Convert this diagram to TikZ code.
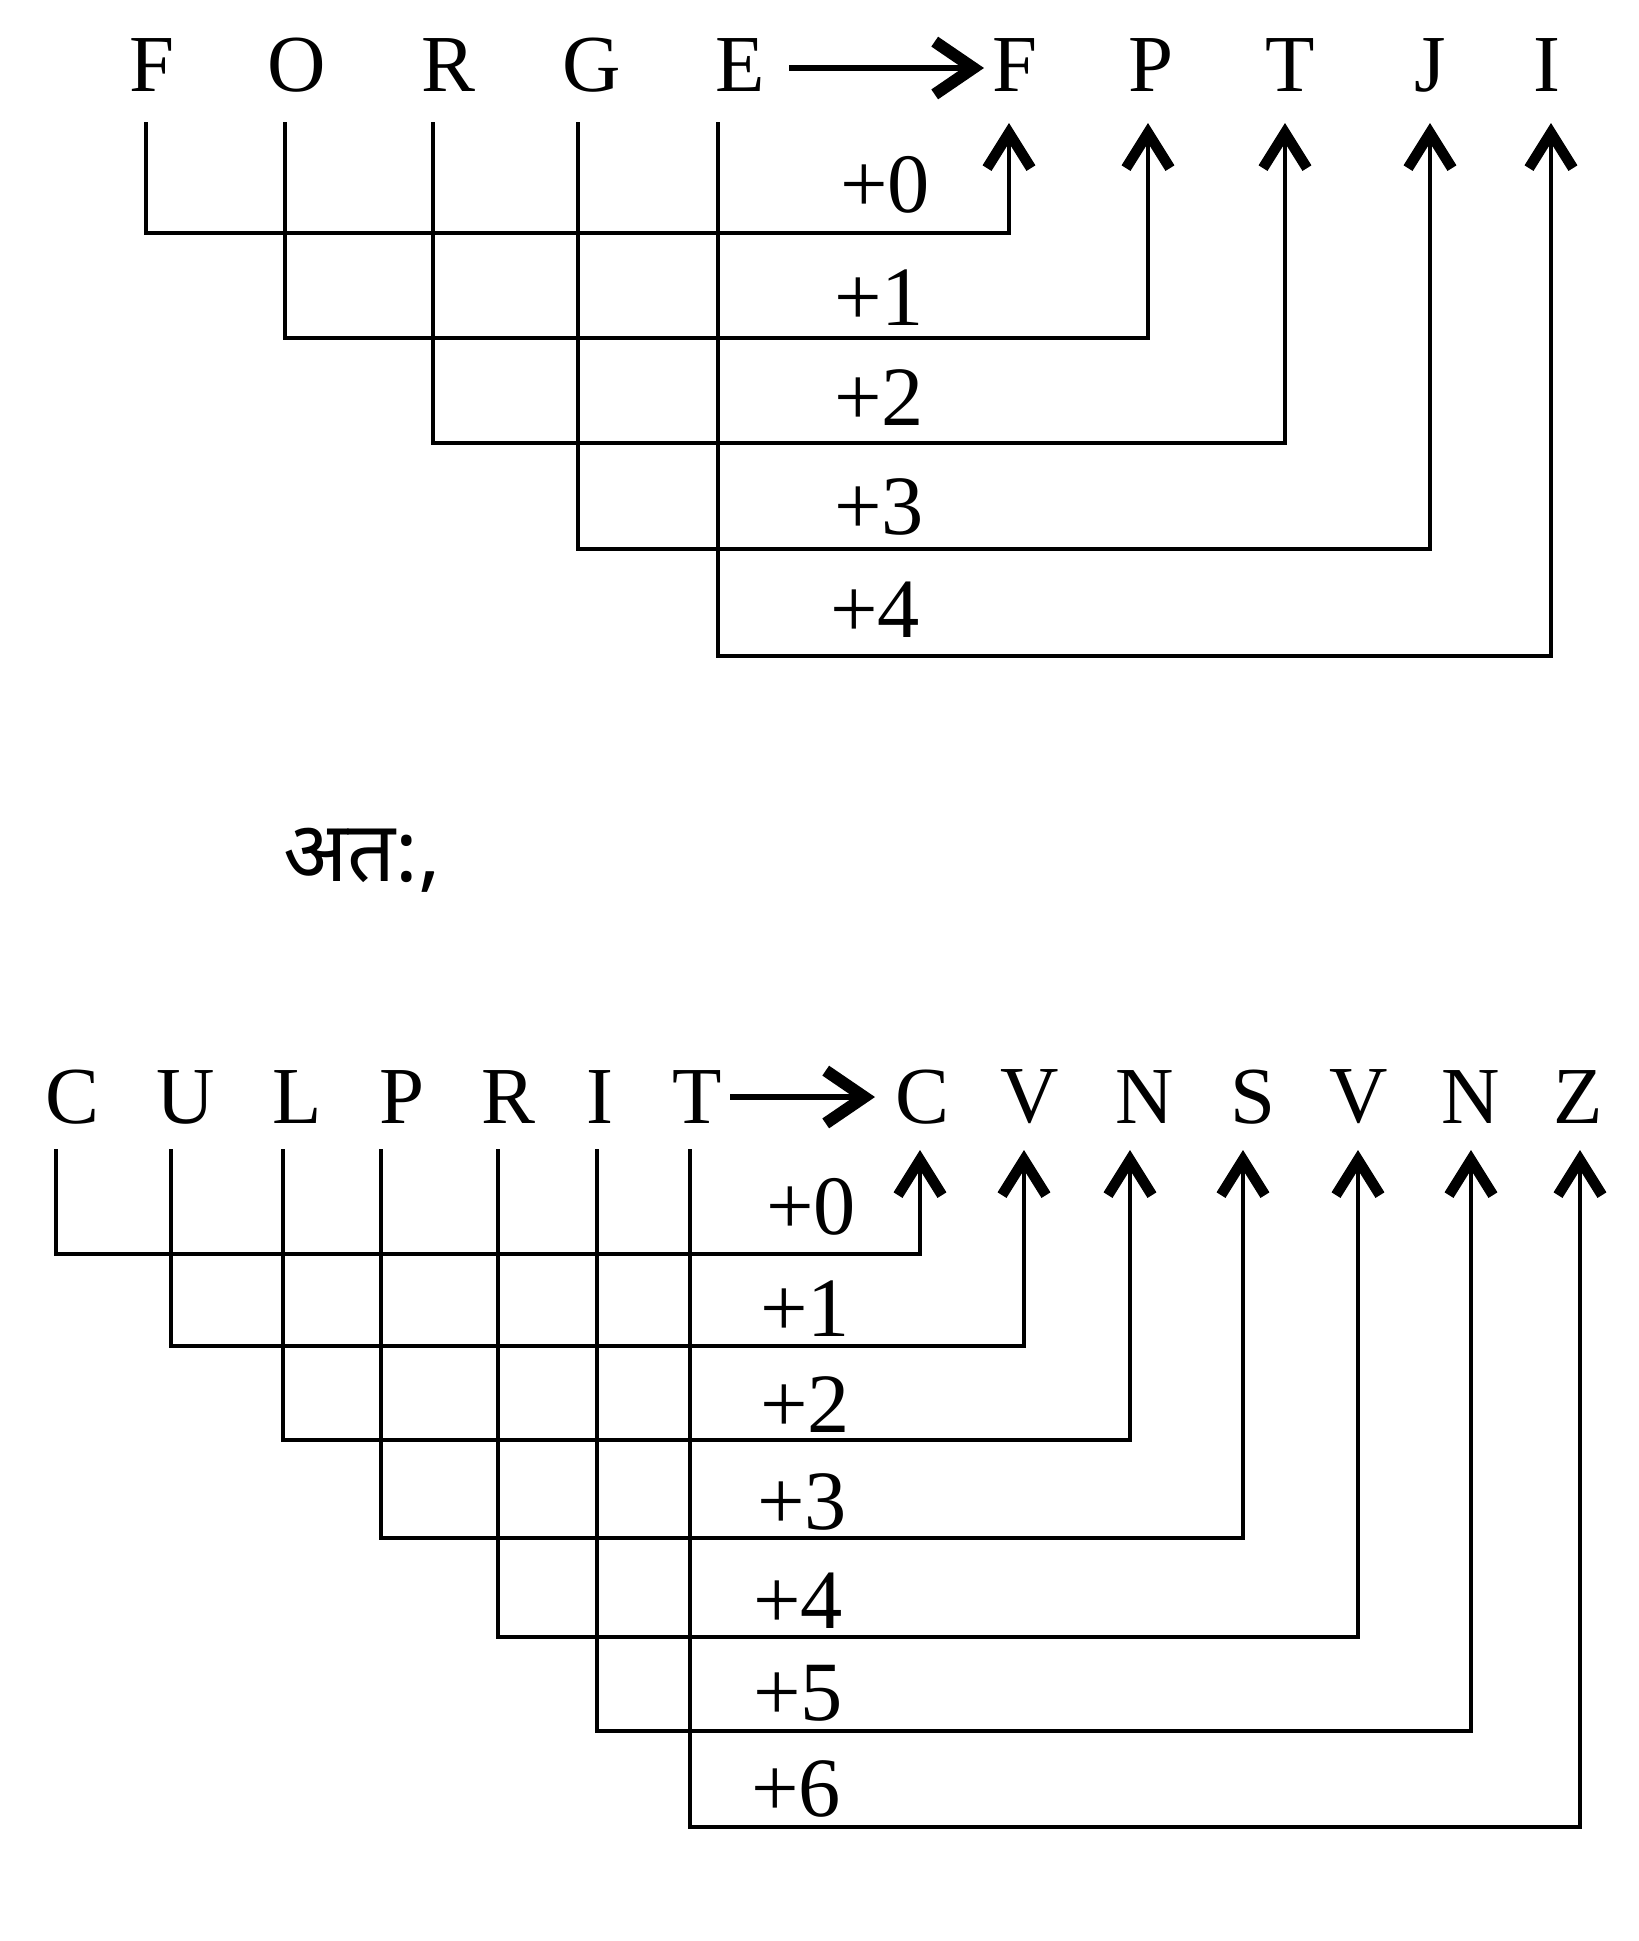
\documentclass[tikz,border=0pt]{standalone}
\usepackage{fontspec}
\setmainfont{Liberation Serif}
\newfontfamily\devfont[Script=Devanagari]{Noto Sans}
\usetikzlibrary{arrows.meta}
\begin{document}
\begin{tikzpicture}[x=0.01cm,y=-0.01cm,
  letter/.style={font=\fontsize{23}{23}\selectfont, inner sep=0pt, anchor=center},
  shiftlbl/.style={font=\fontsize{24}{24}\selectfont, inner sep=0pt, anchor=center},
  link/.style={line width=1.3pt, line join=miter,
    -{Straight Barb[length=10pt,width=12.5pt,line width=3pt]}},
  maparrow/.style={line width=1.9pt,
    -{Straight Barb[length=11pt,width=15pt,line width=3.4pt]}}]
\useasboundingbox (0,0) rectangle (1638,1941);

% ---------- FORGE -> FPTJI ----------
\foreach \n/\l/\x in {1/F/152,2/O/297,3/R/448,4/G/592,5/E/740}
  \node[letter] (a\n) at (\x,65) {\l};
\foreach \n/\l/\x in {1/F/1015,2/P/1151,3/T/1290,4/J/1430,5/I/1547}
  \node[letter] (b\n) at (\x,65) {\l};
\coordinate (m1s) at (789,68);
\coordinate (m1e) at (984,68);
\draw[maparrow] (m1s) -- (m1e);

\foreach \n/\sx/\hy/\tx/\lab/\lx/\ly in
  {1/146/233/1009/0/885/185,
   2/285/338/1148/1/879/298,
   3/433/443/1285/2/879/398,
   4/578/549/1430/3/879/507,
   5/718/656/1551/4/875/610}{
  \coordinate (p\n) at (\sx,122);
  \coordinate (r\n) at (\tx,\hy);
  \coordinate (q\n) at (\tx,123);
  \draw[link] (p\n) |- (r\n) -- (q\n);
  \node[shiftlbl] (l\n) at (\lx,\ly) {+\lab};
}

% ---------- Hindi text ----------
\node[font=\devfont\fontsize{24}{24}\selectfont, inner sep=0pt, anchor=base]
  (ata) at (362,881) {अत:,};

% ---------- CULPRIT -> CVNSVNZ ----------
\foreach \n/\l/\x in {1/C/72,2/U/186,3/L/297,4/P/402,5/R/508,6/I/600,7/T/697}
  \node[letter] (c\n) at (\x,1097) {\l};
\foreach \n/\l/\x in {1/C/922,2/V/1030,3/N/1145,4/S/1253,5/V/1359,6/N/1471,7/Z/1578}
  \node[letter] (d\n) at (\x,1097) {\l};
\coordinate (m2s) at (730,1097);
\coordinate (m2e) at (875,1097);
\draw[maparrow] (m2s) -- (m2e);

\foreach \n/\sx/\hy/\tx/\lab/\lx/\ly in
  {1/56/1254/920/0/811/1207,
   2/171/1346/1024/1/805/1309,
   3/283/1440/1130/2/805/1405,
   4/381/1538/1243/3/802/1502,
   5/498/1637/1358/4/798/1601,
   6/597/1731/1471/5/798/1693,
   7/690/1827/1580/6/796/1789}{
  \coordinate (s\n) at (\sx,1149);
  \coordinate (v\n) at (\tx,\hy);
  \coordinate (t\n) at (\tx,1150);
  \draw[link] (s\n) |- (v\n) -- (t\n);
  \node[shiftlbl] (k\n) at (\lx,\ly) {+\lab};
}
\end{tikzpicture}
\end{document}
